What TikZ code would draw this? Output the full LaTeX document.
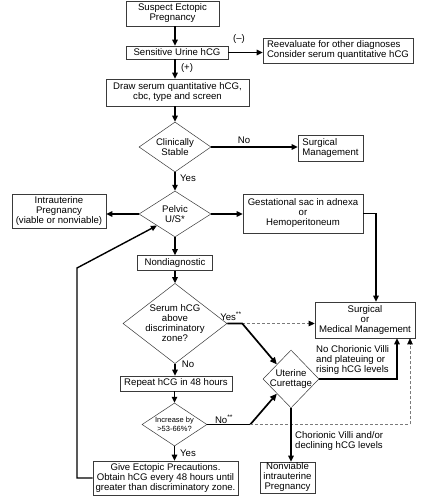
\documentclass[tikz,border=0pt]{standalone}
\usepackage{fontspec}
\setmainfont{Liberation Sans}
\usepackage{tikz}
\usetikzlibrary{arrows.meta, positioning, shapes.geometric, calc}
\definecolor{fline}{HTML}{3A3A3A}
\definecolor{fgray}{HTML}{7A7A7A}
\tikzset{
  fbox/.style={draw=fline, line width=0.6pt, fill=white, inner xsep=2pt, inner ysep=1pt,
               align=center, font=\fontsize{9.6}{10}\selectfont},
  fdia/.style={diamond, draw=fline, line width=0.5pt, fill=white, inner sep=-4pt,
               align=center, font=\fontsize{9.6}{10}\selectfont},
  lbl/.style={font=\fontsize{9.6}{10}\selectfont, inner sep=1pt},
  arr/.style={-{Triangle[length=6pt,width=5.5pt]}, line width=1.4pt, black},
  thk/.style={-{Triangle[length=7pt,width=6pt]}, line width=1.7pt, black},
  darr/.style={-{Triangle[length=6pt,width=5.5pt,color=black]}, dash pattern=on 3pt off 2pt,
               line width=0.7pt, fgray},
}

\begin{document}
\begin{tikzpicture}[x=1pt, y=-1pt]
  \useasboundingbox (0,0) rectangle (424,500);

  \node[fbox, minimum width=93pt, minimum height=25pt] (susp) at (172.5,13.5) {Suspect Ectopic\\Pregnancy};
  \node[fbox, minimum width=102pt, minimum height=13pt] (urine) at (177,52.5) {Sensitive Urine hCG};
  \node[fbox, minimum width=150pt, minimum height=25pt, align=left] (reeval) at (338,50.5) {Reevaluate for other diagnoses\\Consider serum quantitative hCG};
  \node[fbox, minimum width=143pt, minimum height=27pt] (serumdraw) at (177.5,92.5) {Draw serum quantitative hCG,\\cbc, type and screen};
  \node[fdia, minimum width=72pt, minimum height=50pt] (stable) at (175,147) {Clinically\\Stable};
  \node[fbox, minimum width=65pt, minimum height=26pt, align=left] (surg) at (330.5,148) {Surgical\\Management};
  \node[fdia, minimum width=72pt, minimum height=46pt] (pelvic) at (175,214) {Pelvic\\U/S*};
  \node[fbox, minimum width=94pt, minimum height=34pt] (iup) at (59,211) {Intrauterine\\Pregnancy\\(viable or nonviable)};
  \node[fbox, minimum width=120pt, minimum height=39pt] (gsac) at (303,213.5) {Gestational sac in adnexa\\or\\Hemoperitoneum};
  \node[fbox, minimum width=75pt, minimum height=15pt] (nondiag) at (175,263) {Nondiagnostic};
  \node[fdia, minimum width=104pt, minimum height=69pt] (serum) at (175,323.5) {Serum hCG\\above\\discriminatory\\zone?};
  \node[fbox, minimum width=100pt, minimum height=36pt] (smm) at (365,320) {Surgical\\or\\Medical Management};
  \node[fdia, minimum width=56pt, minimum height=58pt] (uc) at (291,379) {Uterine\\Curettage};
  \node[fbox, minimum width=112pt, minimum height=15pt] (repeat) at (176,383.5) {Repeat hCG in 48 hours};
  \node[fdia, minimum width=65pt, minimum height=43pt, font=\fontsize{7.5}{9}\selectfont] (incr) at (174.5,424.5) {Increase by\\>53-66\%?};
  \node[fbox, minimum width=145pt, minimum height=34pt] (give) at (165.5,478) {Give Ectopic Precautions.\\Obtain hCG every 48 hours until\\greater than discriminatory zone.};
  \node[fbox, minimum width=55pt, minimum height=31pt] (nonv) at (287.5,477.5) {Nonviable\\intrauterine\\Pregnancy};

  \node[lbl] (lneg) at (239,39) {(--)};
  \node[lbl] (lpos) at (187,68) {(+)};
  \node[lbl] (lno1) at (244,140) {No};
  \node[lbl] (lyes1) at (188,178) {Yes};
  \node[lbl] (lyes2) at (231,316) {Yes\textsuperscript{**}};
  \node[lbl] (lno2) at (188,364) {No};
  \node[lbl] (lno3) at (224,419) {No\textsuperscript{**}};
  \node[lbl] (lyes3) at (188,453) {Yes};
  \node[lbl, anchor=west, align=left] (lnocv) at (315,360) {No Chorionic Villi\\and plateuing or\\rising hCG levels};
  \node[lbl, anchor=west, align=left] (lcv) at (294,441) {Chorionic Villi and/or\\declining hCG levels};

  \coordinate (split) at ($(incr.east)+(43,0)$);
  \coordinate (loop) at (77,268);

  \draw[arr] (susp.south -| stable.north) -- (urine.north -| stable.north);
  \draw[arr] (urine.east) -- (urine.east -| reeval.west);
  \draw[arr] (urine.south -| stable.north) -- (serumdraw.north -| stable.north);
  \draw[arr] (serumdraw.south -| stable.north) -- (stable.north);
  \draw[arr] (stable.east) -- (stable.east -| surg.west);
  \draw[arr] (stable.south) -- (pelvic.north);
  \draw[arr] (pelvic.west) -- (pelvic.west -| iup.east);
  \draw[arr] (pelvic.east) -- (pelvic.east -| gsac.west);
  \draw[arr] (gsac.east) -| ([xshift=11pt]smm.north);
  \draw[arr] (pelvic.south) -- (nondiag.north);
  \draw[arr] (nondiag.south) -- (serum.north);
  \draw[darr] (serum.east) -- (serum.east -| smm.west);
  \draw[thk] (serum.east) -- ++(15,0) -- (uc.north west);
  \draw[arr] (serum.south) -- (repeat.north -| serum.south);
  \draw[arr] (repeat.south -| incr.north) -- (incr.north);
  \draw[line width=1.4pt] (incr.east) -- (split);
  \draw[thk] (split) -- (uc.south west);
  \draw[darr] (split) -| ([xshift=45pt]smm.south);
  \draw[arr] (uc.east) -| ([xshift=32pt]smm.south);
  \draw[arr] (uc.south) -- (uc.south |- nonv.north);
  \draw[arr] (incr.south) -- (incr.south |- give.north);
  \draw[arr] (give.west) -| (loop) -- (pelvic.south west);
\end{tikzpicture}
\end{document}
